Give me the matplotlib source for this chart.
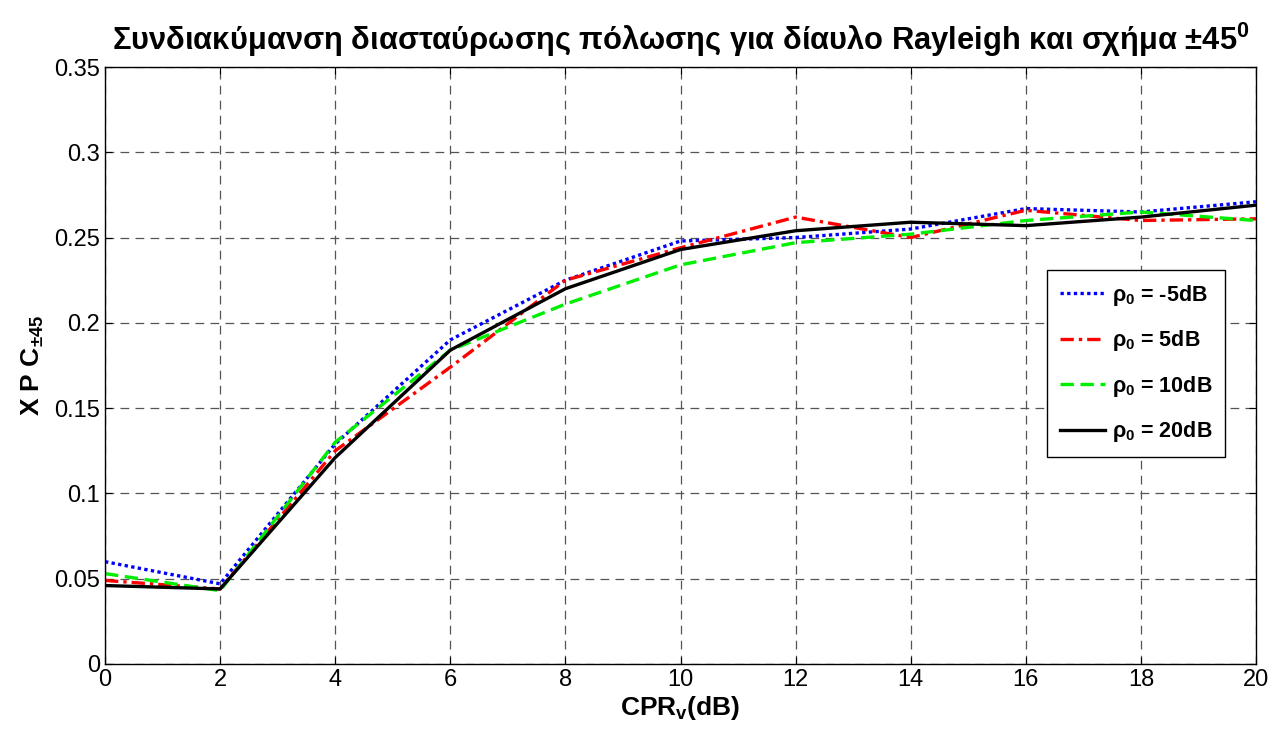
import matplotlib
matplotlib.use("Agg")
import matplotlib.pyplot as plt

x = [0, 2, 4, 6, 8, 10, 12, 14, 16, 18, 20]
rho_m5 = [0.060, 0.047, 0.129, 0.190, 0.225, 0.248, 0.250, 0.255, 0.267, 0.265, 0.271]
rho_5 = [0.049, 0.044, 0.125, 0.174, 0.225, 0.244, 0.262, 0.250, 0.266, 0.260, 0.261]
rho_10 = [0.053, 0.043, 0.130, 0.184, 0.211, 0.234, 0.247, 0.252, 0.260, 0.265, 0.260]
rho_20 = [0.046, 0.044, 0.121, 0.184, 0.220, 0.243, 0.254, 0.259, 0.257, 0.262, 0.269]
labels = [r"$\mathbf{\rho_0}$ = -5dB", r"$\mathbf{\rho_0}$ = 5dB",
          r"$\mathbf{\rho_0}$ = 10dB", r"$\mathbf{\rho_0}$ = 20dB"]
xticks = [0, 2, 4, 6, 8, 10, 12, 14, 16, 18, 20]
yticks = [0, 0.05, 0.1, 0.15, 0.2, 0.25, 0.3, 0.35]
ytick_labels = ["0", "0.05", "0.1", "0.15", "0.2", "0.25", "0.3", "0.35"]

fam = "Liberation Sans"
plt.rcParams['font.family'] = [fam, 'DejaVu Sans']
plt.rcParams['mathtext.fontset'] = 'custom'
plt.rcParams['mathtext.rm'] = fam
plt.rcParams['mathtext.bf'] = fam + ':bold'
plt.rcParams['mathtext.it'] = fam + ':italic'

fig = plt.figure(figsize=(12.78, 7.35), dpi=100)
ax = fig.add_axes([105/1278, 1 - 664/735, (1256-105)/1278, (664-67)/735])

lw = 2.4
ax.plot(x, rho_m5, color='#0000ff', linestyle=(0, (1, 1)), linewidth=lw, label=labels[0])
ax.plot(x, rho_5, color='#ff0000', linestyle=(0, (4, 1.5, 1, 1.5)), linewidth=lw, label=labels[1])
ax.plot(x, rho_10, color='#00ee00', linestyle=(0, (4, 2)), linewidth=lw, label=labels[2])
ax.plot(x, rho_20, color='black', linestyle='-', linewidth=lw, label=labels[3])

ax.set_xlim(0, 20)
ax.set_ylim(0, 0.35)
ax.set_xticks(xticks)
ax.set_xticklabels([str(t) for t in xticks])
ax.set_yticks(yticks)
ax.set_yticklabels(ytick_labels)
ax.tick_params(direction='in', length=5, labelsize=17, top=True, right=True)
ax.grid(True, color='#555555', linestyle=(0, (7, 5)), linewidth=0.9)
for s in ax.spines.values():
    s.set_linewidth(1.0)

ax.set_title("Συνδιακύμανση διασταύρωσης πόλωσης για δίαυλο Rayleigh και σχήμα ±45$^\\mathbf{0}$",
             fontsize=22.2, fontweight='bold', pad=12)
ax.set_xlabel(r"CPR$_\mathbf{v}$(dB)", fontsize=19, fontweight='bold', labelpad=2)
ax.set_ylabel(r"X P C$_\mathbf{\pm 45}$", fontsize=19, fontweight='bold', labelpad=6)

leg = ax.legend(loc='upper right', bbox_to_anchor=(0.973, 0.66),
                prop={'weight': 'bold', 'size': 15.5}, frameon=True, fancybox=False,
                edgecolor='black', framealpha=1, handlelength=2.1, handletextpad=0.3,
                labelspacing=0.95, borderpad=0.6, borderaxespad=0)
leg.get_frame().set_linewidth(1.0)

fig.savefig("out.png", dpi=100)
